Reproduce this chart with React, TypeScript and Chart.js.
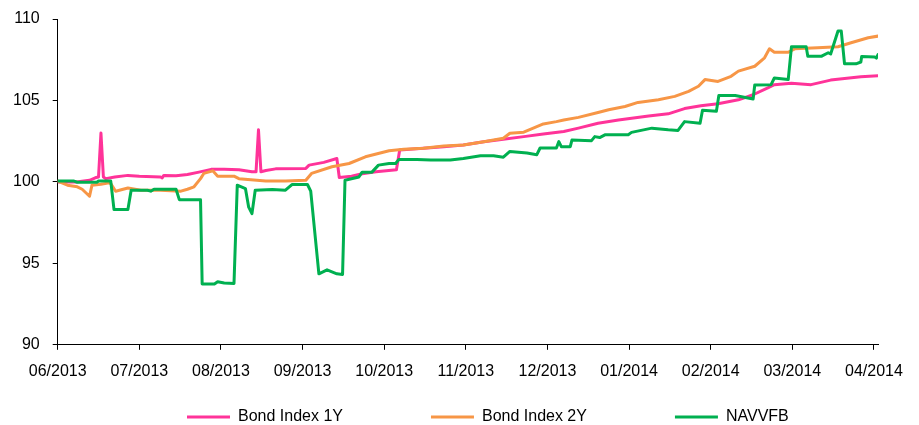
import React, { useEffect, useRef } from "react";
import { Chart, registerables } from "chart.js";

Chart.register(...registerables);

// Month tick labels (x axis is "months since 06/2013")
const monthLabels = [
  "06/2013", "07/2013", "08/2013", "09/2013", "10/2013", "11/2013",
  "12/2013", "01/2014", "02/2014", "03/2014", "04/2014",
];
const yTickValues = [90, 95, 100, 105, 110];
const seriesNames = ["Bond Index 1Y", "Bond Index 2Y", "NAVVFB"];
const seriesColors = ["#FF3399", "#F79646", "#00B050"];

// [month offset, value]
const bondIndex1Y: [number, number][] = [
  [0.0, 100.0], [0.23, 100.0], [0.39, 100.1], [0.46, 100.25], [0.5, 100.3],
  [0.53, 103.0], [0.56, 100.3], [0.59, 100.2], [0.7, 100.3], [0.86, 100.4],
  [1.0, 100.35], [1.26, 100.3], [1.28, 100.25], [1.3, 100.4], [1.45, 100.38],
  [1.59, 100.45], [1.73, 100.6], [1.88, 100.77], [2.04, 100.77], [2.22, 100.75],
  [2.38, 100.62], [2.43, 100.62], [2.46, 103.2], [2.49, 100.62], [2.55, 100.7],
  [2.67, 100.8], [3.04, 100.83], [3.08, 101.03], [3.26, 101.2], [3.42, 101.44],
  [3.45, 100.27], [3.6, 100.35], [3.73, 100.5], [3.9, 100.62], [4.15, 100.75],
  [4.19, 101.96], [4.48, 102.06], [4.73, 102.16], [4.97, 102.27], [5.22, 102.47],
  [5.46, 102.62], [5.71, 102.78], [5.95, 102.94], [6.2, 103.09], [6.38, 103.3],
  [6.62, 103.6], [6.87, 103.8], [7.24, 104.05], [7.48, 104.18], [7.68, 104.5],
  [7.88, 104.68], [8.09, 104.8], [8.34, 105.04], [8.52, 105.35], [8.7, 105.77],
  [8.78, 105.97], [8.99, 106.05], [9.23, 105.97], [9.47, 106.25], [9.84, 106.45],
  [10.05, 106.52],
];

const bondIndex2Y: [number, number][] = [
  [0.0, 100.05], [0.12, 99.8], [0.24, 99.7], [0.3, 99.55], [0.39, 99.12],
  [0.42, 99.8], [0.53, 99.86], [0.63, 99.94], [0.65, 99.9], [0.71, 99.43],
  [0.86, 99.63], [1.02, 99.49], [1.26, 99.49], [1.51, 99.43], [1.59, 99.55],
  [1.67, 99.7], [1.75, 100.2], [1.79, 100.52], [1.9, 100.68], [1.96, 100.35],
  [2.16, 100.35], [2.22, 100.2], [2.55, 100.06], [2.79, 100.06], [3.04, 100.1],
  [3.11, 100.52], [3.36, 100.93], [3.57, 101.13], [3.77, 101.54], [4.06, 101.91],
  [4.24, 102.0], [4.48, 102.06], [4.73, 102.2], [4.97, 102.27], [5.22, 102.47],
  [5.46, 102.68], [5.54, 102.99], [5.71, 103.05], [5.79, 103.23], [5.95, 103.56],
  [6.11, 103.7], [6.2, 103.8], [6.38, 103.96], [6.62, 104.26], [6.75, 104.43],
  [6.95, 104.63], [7.11, 104.88], [7.36, 105.04], [7.56, 105.25], [7.73, 105.56],
  [7.85, 105.87], [7.93, 106.28], [8.09, 106.17], [8.25, 106.48], [8.34, 106.8],
  [8.54, 107.1], [8.66, 107.62], [8.72, 108.17], [8.78, 107.96], [8.95, 107.96],
  [9.03, 108.17], [9.31, 108.23], [9.56, 108.3], [9.72, 108.54], [9.93, 108.85],
  [10.05, 108.95],
];

const navvfb: [number, number][] = [
  [0.0, 100.05], [0.2, 100.05], [0.24, 99.98], [0.48, 99.98], [0.5, 100.05],
  [0.65, 100.05], [0.69, 98.3], [0.86, 98.3], [0.9, 99.49], [1.1, 99.49],
  [1.14, 99.43], [1.18, 99.55], [1.45, 99.55], [1.49, 98.91], [1.75, 98.91],
  [1.77, 93.73], [1.92, 93.73], [1.96, 93.87], [2.04, 93.8], [2.16, 93.77],
  [2.2, 99.8], [2.3, 99.59], [2.34, 98.45], [2.38, 98.05], [2.42, 99.49],
  [2.63, 99.53], [2.79, 99.49], [2.87, 99.84], [3.06, 99.84], [3.1, 99.43],
  [3.2, 94.36], [3.3, 94.6], [3.42, 94.36], [3.49, 94.32], [3.52, 100.1],
  [3.69, 100.3], [3.73, 100.6], [3.85, 100.6], [3.93, 101.03], [4.06, 101.13],
  [4.14, 101.13], [4.18, 101.38], [4.4, 101.38], [4.57, 101.34], [4.81, 101.34],
  [4.97, 101.44], [5.18, 101.6], [5.34, 101.6], [5.46, 101.52], [5.54, 101.87],
  [5.75, 101.77], [5.87, 101.67], [5.91, 102.08], [6.11, 102.08], [6.14, 102.47],
  [6.17, 102.16], [6.28, 102.16], [6.3, 102.57], [6.54, 102.53], [6.58, 102.78],
  [6.64, 102.72], [6.71, 102.9], [6.99, 102.9], [7.03, 103.04], [7.28, 103.3],
  [7.48, 103.2], [7.6, 103.16], [7.68, 103.7], [7.87, 103.6], [7.9, 104.4],
  [8.07, 104.33], [8.1, 105.3], [8.3, 105.3], [8.52, 105.09], [8.54, 105.95],
  [8.74, 105.97], [8.78, 106.38], [8.95, 106.28], [8.99, 108.3], [9.17, 108.3],
  [9.19, 107.72], [9.36, 107.72], [9.44, 107.93], [9.47, 107.85], [9.56, 109.26],
  [9.6, 109.26], [9.64, 107.25], [9.78, 107.25], [9.84, 107.36], [9.85, 107.7],
  [10.01, 107.67], [10.03, 107.6], [10.05, 107.82],
];

const allSeries = [bondIndex1Y, bondIndex2Y, navvfb];

const FONT_FAMILY = "'Liberation Sans', Arial, Helvetica, sans-serif";
const FONT_SIZE = 16;

// Places the (built-in) legend row like the original: first sample at x=187, row centred at y=417
const legendPlacement = {
  id: "legendPlacement",
  afterLayout(chart: any) {
    const lg = chart.legend;
    if (!lg || !lg.lineWidths) return;
    const pad = lg.options.labels.padding;
    const desiredStart = 187;
    const desiredMid = 417;
    const contentWidth = lg.lineWidths[0] - pad;
    const dx = desiredStart + contentWidth / 2 - (lg.left + lg.right) / 2;
    lg.left += dx;
    lg.right += dx;
    lg.width = lg.right - lg.left;
    lg.top = desiredMid - pad - FONT_SIZE / 2;
    lg.bottom = chart.height;
    lg.height = lg.bottom - lg.top;
  },
};

export default function App() {
  const canvasRef = useRef<HTMLCanvasElement>(null);

  useEffect(() => {
    if (!canvasRef.current) return;
    const font = { family: FONT_FAMILY, size: FONT_SIZE };
    const chart = new Chart(canvasRef.current, {
      type: "line",
      data: {
        datasets: allSeries.map((s, i) => ({
          label: seriesNames[i],
          data: s.map(([x, y]) => ({ x, y })),
          borderColor: seriesColors[i],
          backgroundColor: seriesColors[i],
          borderWidth: 3,
          pointRadius: 0,
          tension: 0,
          borderJoinStyle: "round" as const,
          borderCapStyle: "round" as const,
          order: 2 - i,
        })),
      },
      options: {
        responsive: false,
        animation: false,
        events: [],
        layout: { padding: { left: 0, right: 41, top: 19, bottom: 0 } },
        scales: {
          x: {
            type: "linear",
            min: 0,
            max: 10.05,
            afterBuildTicks: (scale: any) => {
              scale.ticks = monthLabels.map((_, i) => ({ value: i }));
            },
            ticks: {
              stepSize: 1,
              autoSkip: false,
              maxRotation: 0,
              padding: 12,
              color: "#000",
              font,
              callback: (v: any) => monthLabels[Math.round(Number(v))] ?? "",
            },
            grid: {
              display: true,
              drawOnChartArea: false,
              drawTicks: true,
              tickLength: 5,
              color: "#000",
              lineWidth: 1,
            },
            border: { display: true, color: "#000", width: 1 },
          },
          y: {
            type: "linear",
            min: 90,
            max: 110,
            afterBuildTicks: (scale: any) => {
              scale.ticks = yTickValues.map((v) => ({ value: v }));
            },
            afterFit: (scale: any) => {
              scale.paddingTop = 10;
            },
            ticks: {
              stepSize: 5,
              padding: 13,
              color: "#000",
              font,
            },
            grid: {
              display: true,
              drawOnChartArea: false,
              drawTicks: true,
              tickLength: 5,
              color: "#000",
              lineWidth: 1,
            },
            border: { display: true, color: "#000", width: 1 },
          },
        },
        plugins: {
          tooltip: { enabled: false },
          legend: {
            display: true,
            position: "bottom",
            maxHeight: 32,
            labels: {
              boxWidth: 43,
              boxHeight: 3,
              padding: 88,
              color: "#000",
              font,
              generateLabels: (ch: any) =>
                ch.data.datasets.map((ds: any, i: number) => ({
                  text: ds.label,
                  fillStyle: ds.borderColor,
                  strokeStyle: ds.borderColor,
                  lineWidth: 0,
                  hidden: false,
                  datasetIndex: i,
                  fontColor: "#000",
                })),
            },
          },
        },
      } as any,
      plugins: [legendPlacement],
    });
    return () => chart.destroy();
  }, []);

  return (
    <canvas
      ref={canvasRef}
      width={919}
      height={425}
      style={{ position: "absolute", left: 0, top: 0, display: "block" }}
    />
  );
}
